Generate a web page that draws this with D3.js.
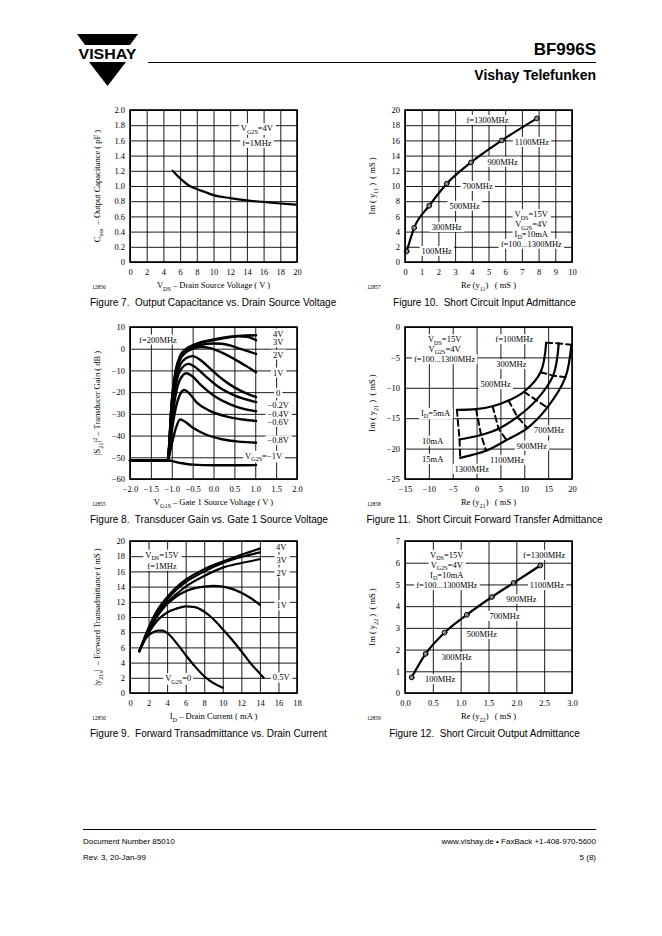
<!DOCTYPE html>
<html>
<head>
<meta charset="utf-8">
<script src="https://cdn.jsdelivr.net/npm/d3@7"></script>
<style>
  body { margin: 0; background: #fff; }
  svg text { font-family: "Liberation Serif", "Times New Roman", serif; white-space: pre; fill: #000; }
  svg text.sans { font-family: "Liberation Sans", Arial, sans-serif; }
</style>
</head>
<body>
<svg id="page" width="662" height="936"></svg>
<script>
// ---------- data ----------

// Fig 7: Coss vs VDS
var vds = [5.1, 6, 7, 8, 9, 10, 12, 14, 16, 18, 19.8];
var coss = [1.2, 1.1, 1.01, 0.96, 0.92, 0.88, 0.84, 0.81, 0.79, 0.77, 0.755];
var c7_xticks = [0, 2, 4, 6, 8, 10, 12, 14, 16, 18, 20];
var c7_yticks = [0, 0.2, 0.4, 0.6, 0.8, 1.0, 1.2, 1.4, 1.6, 1.8, 2.0];

// Fig 10: input admittance, f = 100..1300 MHz
var freqs = ['100MHz', '300MHz', '500MHz', '700MHz', '900MHz', '1100MHz', '1300MHz'];
var re11 = [0.1, 0.55, 1.45, 2.5, 3.95, 5.8, 7.9];
var im11 = [1.4, 4.5, 7.4, 10.3, 13.1, 16.0, 18.9];
var c10_xticks = [0, 1, 2, 3, 4, 5, 6, 7, 8, 9, 10];
var c10_yticks = [0, 2, 4, 6, 8, 10, 12, 14, 16, 18, 20];

// Fig 8: transducer gain vs VG1S, one series per VG2S
var gain_m1 = [[-2,-51.5],[-1.1,-51.5],[-0.8,-52.6],[-0.5,-53.4],[0,-53.7],[0.5,-53.7],[1.02,-53.6]];
var gain_m08 = [[-2,-51.5],[-1.1,-51.5],[-1.0,-44],[-0.9,-36.5],[-0.8,-32.6],[-0.7,-33.4],[-0.5,-36.3],[-0.2,-39.4],[0.2,-41.7],[0.6,-42.8],[1.02,-43.3]];
var gain_m06 = [[-2,-51.5],[-1.1,-51.5],[-1.0,-38],[-0.9,-27],[-0.8,-21],[-0.7,-19],[-0.6,-20.2],[-0.4,-24.8],[-0.1,-28.5],[0.3,-31.2],[0.7,-32.6],[1.02,-33.3]];
var gain_m04 = [[-2,-51.5],[-1.1,-51.5],[-1.0,-34],[-0.9,-20.5],[-0.8,-14.2],[-0.65,-11.3],[-0.5,-12.8],[-0.3,-16.8],[0,-21.5],[0.4,-25.6],[0.7,-27.6],[1.02,-28.8]];
var gain_m02 = [[-2,-51.5],[-1.1,-51.5],[-1.0,-31],[-0.9,-16.5],[-0.8,-10.2],[-0.6,-7],[-0.45,-8.3],[-0.2,-12.5],[0.1,-17.3],[0.5,-21.5],[1.02,-24.6]];
var gain_0 = [[-2,-51.5],[-1.1,-51.5],[-1.0,-29],[-0.9,-14],[-0.8,-7.5],[-0.65,-4.3],[-0.5,-3.4],[-0.3,-5.4],[-0.1,-8.8],[0.2,-13.8],[0.5,-17.8],[0.8,-20.7],[1.02,-22.3]];
var gain_1 = [[-2,-51.5],[-1.1,-51.5],[-1.0,-27],[-0.9,-12],[-0.8,-5],[-0.65,-1.6],[-0.5,0],[-0.3,0.8],[-0.1,0.4],[0.2,-1.8],[0.5,-4.8],[0.75,-7.6],[1.02,-10.8]];
var gain_2 = [[-2,-51.5],[-1.1,-51.5],[-1.0,-26],[-0.9,-11],[-0.8,-4.3],[-0.65,-0.9],[-0.5,0.8],[-0.3,1.8],[0,2.4],[0.2,2.3],[0.4,1.5],[0.6,0.2],[0.8,-1],[1.02,-2.4]];
var gain_3 = [[-2,-51.5],[-1.1,-51.5],[-1.0,-25],[-0.9,-10],[-0.8,-3.8],[-0.65,-0.4],[-0.5,1.3],[-0.3,2.7],[0,3.9],[0.3,5],[0.6,5.7],[0.8,5.5],[1.02,3.9]];
var gain_4 = [[-2,-51.5],[-1.1,-51.5],[-1.0,-24],[-0.9,-9.5],[-0.8,-3.3],[-0.65,0],[-0.5,1.6],[-0.3,3],[0,4.3],[0.3,5.3],[0.6,5.9],[1.02,6.2]];
var gain_labels = ['4V', '3V', '2V', '1V', '0', '\u22120.2V', '\u22120.4V', '\u22120.6V', '\u22120.8V'];
var c8_xticks = [-2, -1.5, -1, -0.5, 0, 0.5, 1, 1.5, 2];
var c8_yticks = [-60, -50, -40, -30, -20, -10, 0, 10];

// Fig 11: forward transfer admittance, per drain current, same freqs as above
var re21_5 = [14.59, 13.41, 9.95, 6.69, 3.36, -0.10, -4.12];
var im21_5 = [-2.59, -7.45, -10.65, -12.09, -13.03, -13.52, -13.63];
var re21_10 = [17.22, 16.05, 12.51, 8.56, 4.61, 0.94, -3.57];
var im21_10 = [-2.70, -8.0, -12.03, -14.79, -16.73, -17.77, -18.49];
var re21_15 = [19.86, 18.61, 14.80, 10.64, 6.28, 1.98, -3.43];
var im21_15 = [-2.93, -8.28, -13.25, -16.62, -18.60, -20.37, -21.53];
var c11_xticks = [-15, -10, -5, 0, 5, 10, 15, 20];
var c11_yticks = [-25, -20, -15, -10, -5, 0];

// Fig 9: |y21s| vs ID, one series per VG2S
var yfs_4 = [[1,5.5],[2,8.6],[3,11],[4,12.6],[5,13.9],[6,14.9],[8,16.3],[10,17.3],[12,18.2],[14,19]];
var yfs_3 = [[1,5.5],[2,8.4],[3,10.7],[4,12.3],[5,13.6],[6,14.6],[8,16.0],[10,17.1],[12,17.9],[14,18.5]];
var yfs_2 = [[1,5.5],[2,8.2],[3,10.3],[4,11.9],[5,13.0],[6,14.0],[8,15.4],[10,16.5],[12,17.1],[14,17.6]];
var yfs_1 = [[1,5.5],[2,8.1],[3,10.2],[4,11.7],[5,12.7],[6,13.4],[7,13.8],[8,14.0],[9,14.1],[10,14.0],[11,13.7],[12,13.2],[13,12.5],[14,11.6]];
var yfs_05 = [[1,5.5],[2,7.9],[3,9.6],[4,10.6],[5,11.1],[6,11.4],[7,11.3],[8,10.7],[9,9.7],[10,8.4],[11,7.0],[12,5.5],[13,3.9],[14,2.55],[14.4,2.0]];
var yfs_0 = [[1,5.5],[1.5,6.8],[2,7.6],[2.5,8.0],[3,8.2],[3.5,8.2],[4,7.9],[5,6.6],[6,5.0],[7,3.5],[8,2.2],[9,1.3],[10,0.7]];
var c9_xticks = [0, 2, 4, 6, 8, 10, 12, 14, 16, 18];
var c9_yticks = [0, 2, 4, 6, 8, 10, 12, 14, 16, 18, 20];

// Fig 12: output admittance
var re22 = [0.12, 0.37, 0.71, 1.11, 1.56, 1.95, 2.43];
var im22 = [0.72, 1.8, 2.78, 3.6, 4.42, 5.07, 5.87];
var c12_xticks = [0, 0.5, 1, 1.5, 2, 2.5, 3];
var c12_yticks = [0, 1, 2, 3, 4, 5, 6, 7];

// ---------- layout ----------
var W = 167, H = 152, FS = 8.5;
var colX = [130, 405], rowY = [110, 327, 541];
var svg = d3.select('#page');

// text with _{sub} and ^{sup} parts
function rich(t, str, size) {
  var re = /([_^])\{([^}]*)\}/g, last = 0, m, shift = 0;
  function span(s, lvl) {
    var target = lvl > 0 ? size * 0.3 : (lvl < 0 ? -size * 0.4 : 0);
    t.append('tspan').attr('dy', target - shift).attr('font-size', lvl ? size * 0.72 : size).text(s);
    shift = target;
  }
  while ((m = re.exec(str))) {
    if (m.index > last) span(str.slice(last, m.index), 0);
    span(m[2], m[1] === '_' ? 1 : -1);
    last = re.lastIndex;
  }
  if (last < str.length) span(str.slice(last), 0);
  return t;
}

// label on a white box, centred on a data point
function label(c, xv, yv, str) {
  var t = c.labels.append('text')
      .attr('x', c.x(xv)).attr('y', c.y(yv) + 3)
      .attr('text-anchor', 'middle').attr('font-size', FS);
  rich(t, str, FS);
  var b = t.node().getBBox();
  c.boxes.append('rect')
      .attr('x', b.x - 2).attr('y', b.y).attr('width', b.width + 4).attr('height', b.height)
      .attr('fill', '#fff');
}

function chart(c) {
  c.g = svg.append('g').attr('transform', 'translate(' + c.left + ',' + c.top + ')');
  c.x = d3.scaleLinear().domain(c.xdom).range([0, W]);
  c.y = d3.scaleLinear().domain(c.ydom).range([H, 0]);

  var gx = c.g.append('g').attr('transform', 'translate(0,' + H + ')')
      .call(d3.axisBottom(c.x).tickValues(c.xticks).tickFormat(c.xfmt).tickSize(-H).tickPadding(7));
  var gy = c.g.append('g')
      .call(d3.axisLeft(c.y).tickValues(c.yticks).tickFormat(c.yfmt).tickSize(-W).tickPadding(5));
  [gx, gy].forEach(function (a) {
    a.select('.domain').remove();
    a.attr('font-family', null).attr('font-size', null);
    a.selectAll('line').attr('stroke', '#000').attr('stroke-width', 0.9);
    a.selectAll('text').attr('font-size', FS);
  });

  c.boxes = c.g.append('g');
  c.labels = c.g.append('g');
  c.curves = c.g.append('g').attr('fill', 'none').attr('stroke', '#000')
      .attr('stroke-linejoin', 'round').attr('stroke-linecap', 'round');

  c.g.append('rect').attr('width', W).attr('height', H)
      .attr('fill', 'none').attr('stroke', '#000').attr('stroke-width', 1.6);

  rich(c.g.append('text').attr('x', W / 2).attr('y', H + 26)
      .attr('text-anchor', 'middle').attr('font-size', FS), c.xtitle, FS);
  rich(c.g.append('text').attr('transform', 'translate(-30,' + (H / 2) + ') rotate(-90)')
      .attr('text-anchor', 'middle').attr('font-size', FS), c.ytitle, FS);
  c.g.append('text').attr('x', -38).attr('y', H + 27).attr('font-size', 5.5).text(c.num);

  var cap = c.g.append('text').attr('class', 'sans').attr('y', H + 44).attr('font-size', 10).text(c.caption);
  if (c.left < 300) cap.attr('x', -40);
  else cap.attr('x', W / 2 - 4).attr('text-anchor', 'middle');
  return c;
}

var fmt1 = d3.format('.1f'), fmtd = d3.format('d');

function pairLine(c, pts, w) {
  c.curves.append('path').datum(pts).attr('stroke-width', w)
      .attr('d', d3.line().x(function (d) { return c.x(d[0]); })
                          .y(function (d) { return c.y(d[1]); })
                          .curve(d3.curveMonotoneX));
}

function xyLine(c, xs, ys, w, curve, dash) {
  var p = c.curves.append('path').datum(xs.map(function (v, i) { return [v, ys[i]]; }))
      .attr('stroke-width', w)
      .attr('d', d3.line().x(function (d) { return c.x(d[0]); })
                          .y(function (d) { return c.y(d[1]); })
                          .curve(curve));
  if (dash) p.attr('stroke-dasharray', dash);
}

function markers(c, xs, ys) {
  c.curves.selectAll(null).data(xs).enter().append('circle')
      .attr('cx', function (d) { return c.x(d); })
      .attr('cy', function (d, i) { return c.y(ys[i]); })
      .attr('r', 2.4).attr('fill', '#8a8a8a').attr('stroke', '#000').attr('stroke-width', 1);
}

// ---------- Figure 7 ----------
var f7 = chart({ left: colX[0], top: rowY[0], xdom: [0, 20], ydom: [0, 2],
  xticks: c7_xticks, yticks: c7_yticks, xfmt: fmtd,
  yfmt: function (d) { return d === 0 ? '0' : fmt1(d); },
  xtitle: 'V_{DS} \u2013 Drain Source Voltage ( V )',
  ytitle: 'C_{oss}  \u2013 Output Capacitance ( pF )',
  num: '12856', caption: 'Figure 7.  Output Capacitance vs. Drain Source Voltage' });
label(f7, 15.2, 1.76, 'V_{G2S}=4V');
label(f7, 15.2, 1.57, 'f=1MHz');
xyLine(f7, vds, coss, 2.2, d3.curveMonotoneX);

// ---------- Figure 10 ----------
var f10 = chart({ left: colX[1], top: rowY[0], xdom: [0, 10], ydom: [0, 20],
  xticks: c10_xticks, yticks: c10_yticks, xfmt: fmtd, yfmt: fmtd,
  xtitle: 'Re (y_{11})   ( mS )', ytitle: 'Im ( y_{11} )  ( mS )',
  num: '12857', caption: 'Figure 10.  Short Circuit Input Admittance' });
label(f10, 4.94, 18.7, 'f=1300MHz');
label(f10, 7.6, 15.8, freqs[5]);
label(f10, 5.85, 13.2, freqs[4]);
label(f10, 4.35, 10.0, freqs[3]);
label(f10, 3.57, 7.4, freqs[2]);
label(f10, 2.5, 4.6, freqs[1]);
label(f10, 1.9, 1.45, freqs[0]);
label(f10, 7.56, 6.3, 'V_{DS}=15V');
label(f10, 7.56, 5.0, 'V_{G2S}=4V');
label(f10, 7.56, 3.7, 'I_{D}=10mA');
label(f10, 7.56, 2.4, 'f=100...1300MHz');
xyLine(f10, re11, im11, 2.2, d3.curveMonotoneX);
markers(f10, re11, im11);

// ---------- Figure 8 ----------
var f8 = chart({ left: colX[0], top: rowY[1], xdom: [-2, 2], ydom: [-60, 10],
  xticks: c8_xticks, yticks: c8_yticks, xfmt: fmt1, yfmt: fmtd,
  xtitle: 'V_{G1S} \u2013 Gate 1 Source Voltage ( V )',
  ytitle: '|S_{21}|^{2} \u2013 Transducer Gain ( dB )',
  num: '12855', caption: 'Figure 8.  Transducer Gain vs. Gate 1 Source Voltage' });
label(f8, -1.33, 4.2, 'f=200MHz');
[7.0, 3.0, -2.7, -11.0, -20.3, -26.1, -29.9, -33.7, -42.2].forEach(function (v, i) {
  label(f8, 1.55, v, gain_labels[i]);
});
label(f8, 1.2, -49.3, 'V_{G2S}=\u22121V');
[gain_m1, gain_m08, gain_m06, gain_m04, gain_m02, gain_0, gain_1, gain_2, gain_3, gain_4]
  .forEach(function (s) { pairLine(f8, s, 2.4); });

// ---------- Figure 11 ----------
var f11 = chart({ left: colX[1], top: rowY[1], xdom: [-15, 20], ydom: [-25, 0],
  xticks: c11_xticks, yticks: c11_yticks, xfmt: fmtd, yfmt: fmtd,
  xtitle: 'Re (y_{21})   ( mS )', ytitle: 'Im ( y_{21} )  ( mS )',
  num: '12858', caption: 'Figure 11.  Short Circuit Forward Transfer Admittance' });
label(f11, -6.7, -2.0, 'V_{DS}=15V');
label(f11, -6.7, -3.6, 'V_{G2S}=4V');
label(f11, -6.7, -5.3, 'f=100...1300MHz');
label(f11, 7.9, -2.0, 'f=100MHz');
label(f11, 7.3, -6.1, freqs[1]);
label(f11, 4.0, -9.4, freqs[2]);
label(f11, 15.2, -17.0, freqs[3]);
label(f11, 11.6, -19.5, freqs[4]);
label(f11, 6.4, -21.9, freqs[5]);
label(f11, -1.0, -23.3, freqs[6]);
label(f11, -8.6, -14.1, 'I_{D}=5mA');
label(f11, -9.2, -18.7, '10mA');
label(f11, -9.2, -21.7, '15mA');
xyLine(f11, re21_5, im21_5, 2.2, d3.curveCatmullRom);
xyLine(f11, re21_10, im21_10, 2.2, d3.curveCatmullRom);
xyLine(f11, re21_15, im21_15, 2.2, d3.curveCatmullRom);
freqs.forEach(function (f, i) {
  xyLine(f11, [re21_5[i], re21_10[i], re21_15[i]], [im21_5[i], im21_10[i], im21_15[i]],
         2, d3.curveLinear, '6,4');
});

// ---------- Figure 9 ----------
var f9 = chart({ left: colX[0], top: rowY[2], xdom: [0, 18], ydom: [0, 20],
  xticks: c9_xticks, yticks: c9_yticks, xfmt: fmtd, yfmt: fmtd,
  xtitle: 'I_{D} \u2013 Drain Current ( mA )',
  ytitle: '|y_{21s}|  \u2013 Forward Transadmittance ( mS )',
  num: '12850', caption: 'Figure 9.  Forward Transadmittance vs. Drain Current' });
label(f9, 3.45, 18.2, 'V_{DS}=15V');
label(f9, 3.45, 16.75, 'f=1MHz');
label(f9, 16.3, 19.2, '4V');
label(f9, 16.35, 17.55, '3V');
label(f9, 16.35, 15.85, '2V');
label(f9, 16.35, 11.55, '1V');
label(f9, 16.3, 2.05, '0.5V');
label(f9, 5.2, 1.95, 'V_{G2S}=0');
[yfs_4, yfs_3, yfs_2, yfs_1, yfs_05, yfs_0].forEach(function (s) { pairLine(f9, s, 2.2); });

// ---------- Figure 12 ----------
var f12 = chart({ left: colX[1], top: rowY[2], xdom: [0, 3], ydom: [0, 7],
  xticks: c12_xticks, yticks: c12_yticks, xfmt: fmt1, yfmt: fmtd,
  xtitle: 'Re (y_{22})   ( mS )', ytitle: 'Im ( y_{22} )  ( mS )',
  num: '12859', caption: 'Figure 12.  Short Circuit Output Admittance' });
label(f12, 0.75, 6.36, 'V_{DS}=15V');
label(f12, 0.75, 5.9, 'V_{G2S}=4V');
label(f12, 0.75, 5.44, 'I_{D}=10mA');
label(f12, 0.75, 4.97, 'f=100...1300MHz');
label(f12, 2.5, 6.36, 'f=1300MHz');
label(f12, 2.55, 4.97, freqs[5]);
label(f12, 2.09, 4.33, freqs[4]);
label(f12, 1.79, 3.55, freqs[3]);
label(f12, 1.38, 2.72, freqs[2]);
label(f12, 0.93, 1.66, freqs[1]);
label(f12, 0.63, 0.64, freqs[0]);
xyLine(f12, re22, im22, 2.2, d3.curveMonotoneX);
markers(f12, re22, im22);

// ---------- page header / footer ----------
var hdr = svg.append('g');
hdr.append('path').attr('d', 'M77,34L138,34L130,45L85,45Z').attr('fill', '#000');
hdr.append('path').attr('d', 'M89,62L126,62L107.5,86Z').attr('fill', '#000');
hdr.append('text').attr('class', 'sans').attr('x', 107.5).attr('y', 59)
   .attr('text-anchor', 'middle').attr('font-weight', 'bold').attr('font-size', 14.5)
   .attr('textLength', 58).attr('lengthAdjust', 'spacingAndGlyphs').text('VISHAY');
hdr.append('line').attr('x1', 148).attr('x2', 596).attr('y1', 62.5).attr('y2', 62.5)
   .attr('stroke', '#000').attr('stroke-width', 1);
hdr.append('text').attr('class', 'sans').attr('x', 596).attr('y', 55).attr('text-anchor', 'end')
   .attr('font-weight', 'bold').attr('font-size', 17).text('BF996S');
hdr.append('text').attr('class', 'sans').attr('x', 596).attr('y', 80).attr('text-anchor', 'end')
   .attr('font-weight', 'bold').attr('font-size', 14).text('Vishay Telefunken');

var ftr = svg.append('g');
ftr.append('line').attr('x1', 83).attr('x2', 596).attr('y1', 829.5).attr('y2', 829.5)
   .attr('stroke', '#000').attr('stroke-width', 1);
[['Document Number 85010', 83, 844, 'start'], ['Rev. 3, 20-Jan-99', 83, 860, 'start'],
 ['www.vishay.de \u2022 FaxBack +1-408-970-5600', 596, 844, 'end'], ['5 (8)', 596, 860, 'end']]
  .forEach(function (d) {
    ftr.append('text').attr('class', 'sans').attr('x', d[1]).attr('y', d[2])
       .attr('text-anchor', d[3]).attr('font-size', 8).text(d[0]);
  });
</script>
</body>
</html>
